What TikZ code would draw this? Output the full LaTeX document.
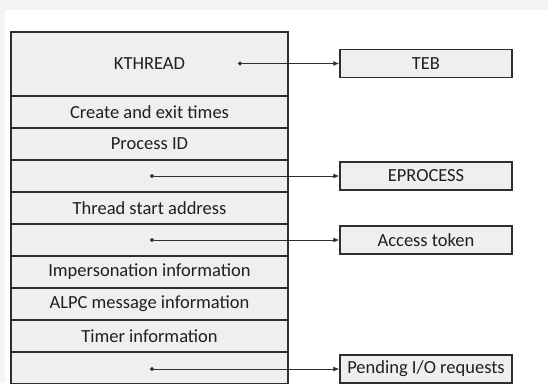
\documentclass[tikz,border=0pt]{standalone}
\usepackage{fontspec}
\setmainfont{Carlito}
\usetikzlibrary{arrows.meta}
\definecolor{rowfill}{HTML}{EFEFEF}
\definecolor{edge}{HTML}{2E2E2E}
\definecolor{pagebg}{HTML}{F4F4F4}
\tikzset{
  row/.style={draw=edge, line width=1.4pt, fill=rowfill, minimum width=277pt, inner sep=0pt, font=\fontsize{18.5}{20}\selectfont, text=black!88},
  sidebox/.style={draw=edge, line width=1.4pt, fill=rowfill, minimum width=172pt, minimum height=28pt, inner sep=0pt, font=\fontsize{18.5}{20}\selectfont, text=black!88},
  ptr/.style={draw=edge, line width=1pt, {Circle[length=4pt]}-{Latex[length=6pt,width=5pt]}}
}
\begin{document}
\begin{tikzpicture}[x=1pt,y=-1pt]
\useasboundingbox (0,0) rectangle (548,383);
\fill[pagebg] (0,0) rectangle (548,383);
\fill[white] (5,10) rectangle (548,383);
% main structure rows
\node[row, minimum height=64pt] (kthread) at (149.5,64) {KTHREAD};
\node[row, minimum height=32pt] (times) at (149.5,112) {Create and exit times};
\node[row, minimum height=32pt] (pid) at (149.5,144) {Process ID};
\node[row, minimum height=32pt] (eproc) at (149.5,176) {};
\node[row, minimum height=32pt] (start) at (149.5,208) {Thread start address};
\node[row, minimum height=32pt] (token) at (149.5,240) {};
\node[row, minimum height=32pt] (imp) at (149.5,272) {Impersonation information};
\node[row, minimum height=32pt] (alpc) at (149.5,304) {ALPC message information};
\node[row, minimum height=32pt] (timer) at (149.5,336) {Timer information};
\node[row, minimum height=32pt] (io) at (149.5,368) {};
% side boxes
\node[sidebox] (teb) at (426,63.5) {TEB};
\node[sidebox] (eprocbox) at (426,176) {EPROCESS};
\node[sidebox] (tokenbox) at (426,240) {Access token};
\node[sidebox] (iobox) at (426,369) {Pending I/O requests};
% pointer origins
\coordinate (p1) at (238,63.5);
\coordinate (p2) at (150,176);
\coordinate (p3) at (150,240);
\coordinate (p4) at (150,369);
\draw[ptr] (p1) -- (teb.west);
\draw[ptr] (p2) -- (eprocbox.west);
\draw[ptr] (p3) -- (tokenbox.west);
\draw[ptr] (p4) -- (iobox.west);
\end{tikzpicture}
\end{document}
